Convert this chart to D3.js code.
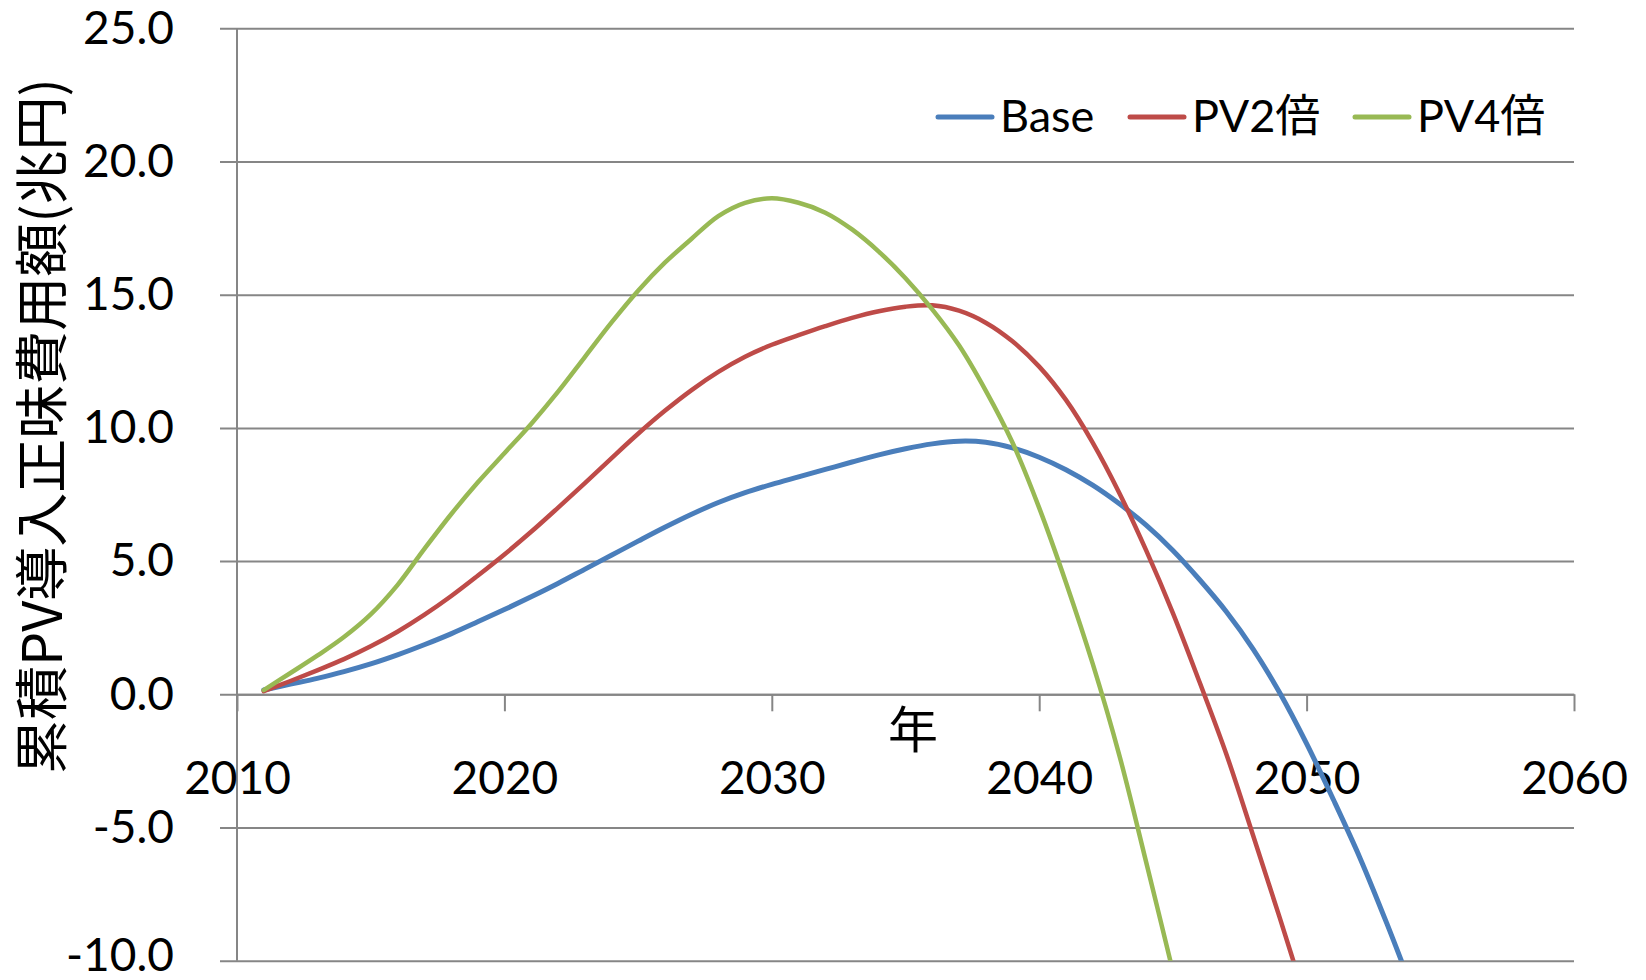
<!DOCTYPE html>
<html>
<head>
<meta charset="utf-8">
<script src="https://cdnjs.cloudflare.com/ajax/libs/d3/7.8.5/d3.min.js"></script>
<style>
  html, body { margin: 0; padding: 0; background: #fff; }
  svg { display: block; }
</style>
</head>
<body>
<svg id="chart" width="1646" height="980"></svg>
<script>
// ---- data ----
const years = [2011,2012,2013,2014,2015,2016,2017,2018,2019,2020,2021,2022,2023,2024,2025,2026,2027,2028,2029,2030,
               2031,2032,2033,2034,2035,2036,2037,2038,2039,2040,2041,2042,2043,2044,2045,2046,2047,2048,2049,2050,
               2051,2052,2053,2054];
const baseValues = [0.16,0.38,0.6,0.85,1.14,1.48,1.86,2.27,2.72,3.18,3.66,4.16,4.69,5.22,5.75,6.27,6.76,7.2,7.57,7.88,
                    8.16,8.44,8.72,8.99,9.22,9.4,9.5,9.46,9.25,8.9,8.43,7.85,7.15,6.35,5.4,4.3,3.1,1.7,0.05,-1.85,
                    -3.95,-6.15,-8.6,-11.2];
const pv2Values = [0.12,0.5,0.9,1.32,1.8,2.35,2.98,3.68,4.45,5.25,6.1,7.0,7.92,8.86,9.78,10.64,11.42,12.1,12.67,13.12,
                   13.48,13.82,14.13,14.38,14.55,14.6,14.4,13.95,13.25,12.3,11.05,9.45,7.55,5.4,3.05,0.45,-2.25,-5.3,-8.4,-11.6];
const pv4Values = [0.16,0.8,1.45,2.15,3.0,4.1,5.45,6.75,7.95,9.05,10.15,11.35,12.65,13.95,15.15,16.2,17.1,17.95,18.45,18.62,
                   18.45,18.08,17.45,16.62,15.62,14.45,13.1,11.4,9.45,7.0,4.2,1.15,-2.3,-6.3,-10.4];
const seriesNames = ["Base", "PV2倍", "PV4倍"];
const seriesColors = ["#4A7EBB", "#BE4B48", "#98B954"];
const xTicks = [2010, 2020, 2030, 2040, 2050, 2060];
const yTicks = [-10, -5, 0, 5, 10, 15, 20, 25];
const yTitle = "累積PV導入正味費用額(兆円)";
const xTitle = "年";

// ---- layout ----
const svg = d3.select("#chart");
const pLeft = 237, pRight = 1574, pTop = 28.3, pBottom = 960.7;
const x = d3.scaleLinear().domain([2010, 2060]).range([pLeft, pRight]);
const y = d3.scaleLinear().domain([-10, 25]).range([pBottom, pTop]);
const gridColor = "#868686";
const fontLatin = "Lato, 'Noto Sans CJK JP', sans-serif";
const locale = d3.formatLocale({decimal: ".", thousands: ",", grouping: [3], currency: ["", ""], minus: "-"});

// y gridlines + labels
const yAxis = d3.axisLeft(y).tickValues(yTicks).tickFormat(locale.format(".1f"))
  .tickSizeInner(pRight - 220).tickSizeOuter(0).tickPadding(46);
const gy = svg.append("g").attr("transform", `translate(${pRight},0)`).call(yAxis);
gy.select(".domain").remove();
gy.selectAll(".tick line").attr("stroke", gridColor).attr("stroke-width", 2);
gy.selectAll(".tick text").attr("fill", "#000").style("font-family", fontLatin).style("font-size", "46px");
// keep the lowest label inside the canvas
gy.selectAll(".tick text").filter(d => d === -10).attr("y", -5);

// vertical axis line
svg.append("line").attr("x1", pLeft).attr("x2", pLeft).attr("y1", pTop).attr("y2", pBottom)
  .attr("stroke", gridColor).attr("stroke-width", 2);

// x axis at y=0
const xAxis = d3.axisBottom(x).tickValues(xTicks).tickFormat(d3.format("d"))
  .tickSizeInner(17).tickSizeOuter(0).tickPadding(50);
const gx = svg.append("g").attr("transform", `translate(0,${y(0)})`).call(xAxis);
gx.select(".domain").attr("stroke", gridColor).attr("stroke-width", 2);
gx.selectAll(".tick line").attr("stroke", gridColor).attr("stroke-width", 2);
gx.selectAll(".tick text").attr("fill", "#000").style("font-family", fontLatin).style("font-size", "46px");

// clip
svg.append("clipPath").attr("id", "plotclip").append("rect")
  .attr("x", pLeft - 5).attr("y", pTop).attr("width", pRight - pLeft + 10).attr("height", pBottom - pTop);

const allSeries = [baseValues, pv2Values, pv4Values];
const line = d3.line().curve(d3.curveCatmullRom.alpha(0.5))
  .x((d, i) => x(years[i])).y(d => y(d));
const plot = svg.append("g").attr("clip-path", "url(#plotclip)");
allSeries.forEach((vals, k) => {
  plot.append("path").datum(vals).attr("d", line)
    .attr("fill", "none").attr("stroke", seriesColors[k])
    .attr("stroke-width", k === 0 ? 5 : 4.5).attr("stroke-linejoin", "round").attr("stroke-linecap", "round");
});

// axis titles
svg.append("text").attr("x", 913).attr("y", 748).attr("text-anchor", "middle")
  .style("font-family", "'Noto Sans CJK JP', sans-serif").style("font-size", "50px").attr("fill", "#000")
  .text(xTitle);
svg.append("text").attr("transform", "translate(62,426) rotate(-90)").attr("text-anchor", "middle")
  .style("font-family", "'Noto Sans CJK JP', sans-serif").style("font-size", "54px").attr("fill", "#000")
  .text(yTitle);

// legend
const legendX = [938, 1130, 1355];
const legend = svg.append("g");
seriesNames.forEach((name, k) => {
  legend.append("line").attr("x1", legendX[k]).attr("x2", legendX[k] + 54).attr("y1", 117).attr("y2", 117)
    .attr("stroke", seriesColors[k]).attr("stroke-width", 5).attr("stroke-linecap", "round");
  legend.append("text").attr("x", legendX[k] + 62).attr("y", 132)
    .style("font-family", fontLatin).style("font-size", "45px").attr("fill", "#000").text(name);
});
</script>
</body>
</html>
